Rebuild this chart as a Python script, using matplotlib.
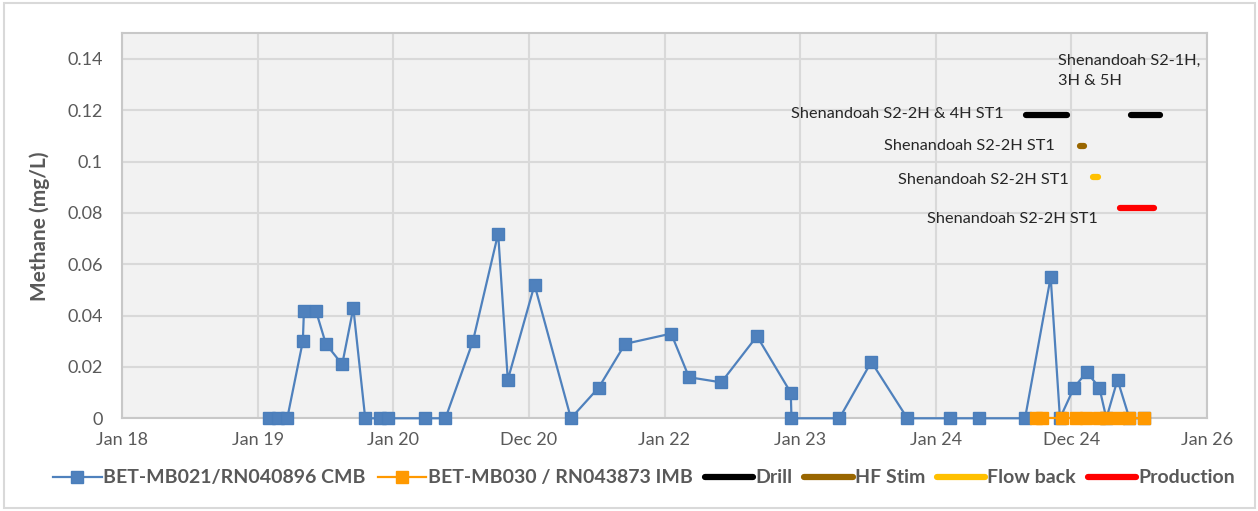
import matplotlib
matplotlib.use("Agg")
import matplotlib.pyplot as plt
import matplotlib.dates as mdates
from matplotlib.patches import Rectangle
import numpy as np
import pandas as pd

plt.rcParams['font.family'] = ['Lato', 'DejaVu Sans']

# sample results, methane (mg/L)
cmb_dates = ["2019-02-01", "2019-02-26", "2019-03-22", "2019-05-03", "2019-05-06",
             "2019-06-07", "2019-07-04", "2019-08-17", "2019-09-16", "2019-10-18",
             "2019-11-27", "2019-12-19", "2020-03-27", "2020-05-21", "2020-08-03",
             "2020-10-10", "2020-11-05", "2021-01-16", "2021-04-24", "2021-07-08",
             "2021-09-17", "2022-01-19", "2022-03-08", "2022-06-03", "2022-09-07",
             "2022-12-07", "2022-12-09", "2023-04-17", "2023-07-12", "2023-10-17",
             "2024-02-10", "2024-04-26", "2024-08-29", "2024-11-06", "2024-12-01",
             "2025-01-08", "2025-02-11", "2025-03-17", "2025-04-05", "2025-05-05",
             "2025-06-06", "2025-07-14"]
cmb_values = [0, 0, 0, 0.030, 0.042,
              0.042, 0.029, 0.021, 0.043, 0,
              0, 0, 0, 0, 0.030,
              0.072, 0.015, 0.052, 0, 0.012,
              0.029, 0.033, 0.016, 0.014, 0.032,
              0.010, 0, 0, 0.022, 0,
              0, 0, 0, 0.055, 0,
              0.012, 0.018, 0.012, 0, 0.015,
              0, 0]

imb_dates = ["2024-09-28", "2024-10-14", "2024-12-07", "2025-01-14", "2025-02-09",
             "2025-03-16", "2025-04-04", "2025-05-07", "2025-06-05", "2025-07-16"]
imb_values = [0, 0, 0, 0, 0, 0, 0, 0, 0, 0]

# well activity periods (start, end) and the level they are drawn at
drill_periods = [("2024-09-01", "2024-12-19"), ("2025-06-11", "2025-08-28")]
drill_level = 0.118
stim_periods = [("2025-01-24", "2025-02-05")]
stim_level = 0.106
flowback_periods = [("2025-03-01", "2025-03-13")]
flowback_level = 0.094
production_periods = [("2025-05-11", "2025-08-12")]
production_level = 0.082

notes = ["Shenandoah S2-1H,\n3H & 5H", "Shenandoah S2-2H & 4H ST1",
         "Shenandoah S2-2H ST1", "Shenandoah S2-2H ST1", "Shenandoah S2-2H ST1"]
note_dates = ["2024-11-25", "2024-07-01", "2024-11-17", "2024-12-26", "2025-03-12"]
note_values = [0.1354, 0.1185, 0.106, 0.0929, 0.0776]
note_align = ["left", "right", "right", "right", "right"]

x_labels = ["Jan 18", "Jan 19", "Jan 20", "Dec 20", "Jan 22", "Jan 23", "Jan 24", "Dec 24", "Jan 26"]
y_ticks = [0, 0.02, 0.04, 0.06, 0.08, 0.1, 0.12, 0.14]
y_labels = ["0", "0.02", "0.04", "0.06", "0.08", "0.1", "0.12", "0.14"]

grey = "#595959"
blue = "#4F81BD"
orange = "#FF9900"

fig = plt.figure(figsize=(12.58, 5.11), dpi=100)
ax = fig.add_axes([122 / 1258, 1 - 418.3 / 511, (1207 - 122) / 1258, (418.3 - 33.3) / 511])
fig.patches.append(Rectangle((4 / 1258, 3 / 511), 1251 / 1258, 505 / 511, transform=fig.transFigure,
                             fill=False, edgecolor="#D9D9D9", linewidth=1.5))

ax.set_facecolor("#F2F2F2")

def d(s):
    return mdates.date2num(pd.Timestamp(s))

ax.plot([d(s) for s in cmb_dates], cmb_values, color=blue, linewidth=1.6,
        marker="s", markersize=9, markerfacecolor=blue, markeredgecolor="#4A7EBB",
        label="BET-MB021/RN040896 CMB", zorder=3, clip_on=False)
ax.plot([d(s) for s in imb_dates], imb_values, color=orange, linewidth=1.6,
        marker="s", markersize=9, markerfacecolor=orange, markeredgecolor=orange,
        label="BET-MB030 / RN043873 IMB", zorder=4, clip_on=False)

activities = [(drill_periods, drill_level, "black", "Drill"),
              (stim_periods, stim_level, "#996600", "HF Stim"),
              (flowback_periods, flowback_level, "#FFC000", "Flow back"),
              (production_periods, production_level, "#FF0000", "Production")]
for periods, level, col, name in activities:
    for i, (start, end) in enumerate(periods):
        ax.plot([d(start), d(end)], [level, level], color=col, linewidth=4.5,
                solid_capstyle="round", label=name if i == 0 else None, zorder=3)

for txt, nd, nv, ha in zip(notes, note_dates, note_values, note_align):
    ax.text(d(nd), nv, txt, ha=ha, va="center", fontsize=11.7, color="#262626",
            linespacing=1.55)

base = d("2018-01-01")
xt = base + np.arange(len(x_labels)) * 365.25
ax.set_xticks(xt)
ax.set_xticklabels(x_labels)
ax.set_xlim(xt[0], xt[-1])
ax.set_yticks(y_ticks)
ax.set_yticklabels(y_labels)
ax.set_ylim(0, 0.15)

ax.grid(True, color="#D9D9D9", linewidth=1.5)
ax.set_axisbelow(True)
for s in ax.spines.values():
    s.set_color("#C8C8C8")
    s.set_linewidth(1.5)
ax.tick_params(length=0, labelsize=13, colors=grey, pad=10)
ax.tick_params(axis="y", pad=14)

ax.set_ylabel("Methane (mg/L)", fontsize=15, fontweight="bold", color=grey)
ax.yaxis.set_label_coords(-0.066, 0.5)

leg = ax.legend(loc="center", bbox_to_anchor=(0.481, -0.155), ncol=6, frameon=False,
                handlelength=2.5, handletextpad=0.1, columnspacing=0.6,
                prop={"size": 14, "weight": "bold"})
for t in leg.get_texts():
    t.set_color(grey)

fig.savefig("out.png", dpi=100)
